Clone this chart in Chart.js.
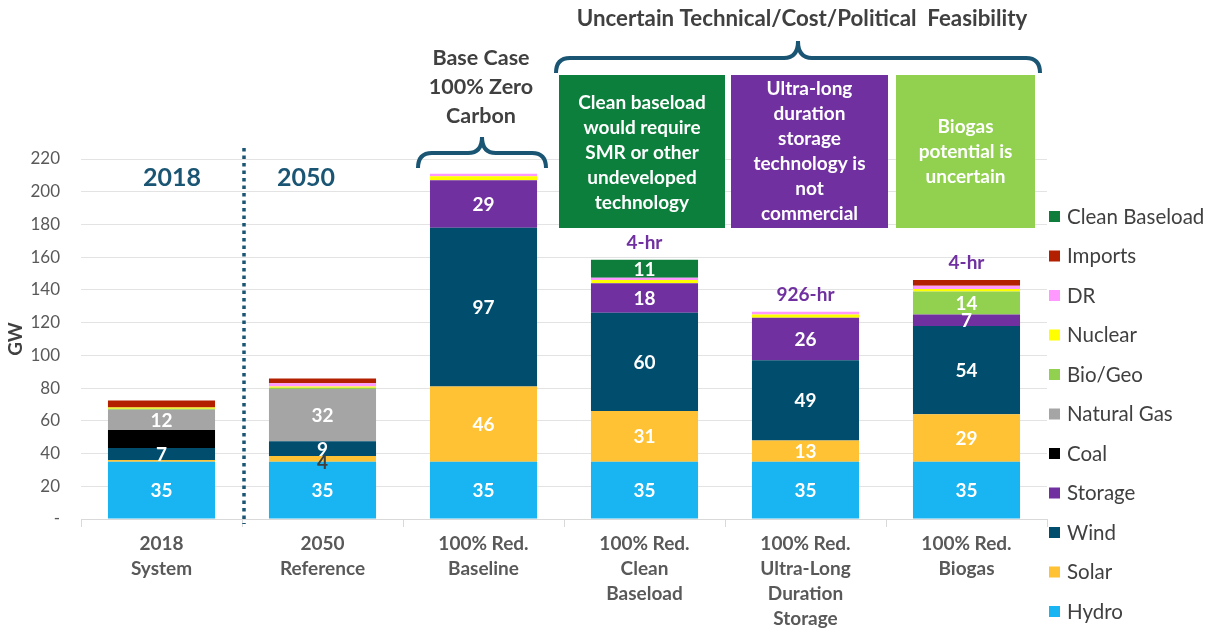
<!DOCTYPE html>
<html>
<head>
<meta charset="utf-8">
<script src="https://cdn.jsdelivr.net/npm/chart.js@4/dist/chart.umd.min.js"></script>
<style>
  html, body { margin: 0; padding: 0; background: #fff; }
  #wrap { width: 1211px; height: 628px; position: relative; }
</style>
</head>
<body>
<div id="wrap"><canvas id="chart"></canvas></div>
<script>
// scenarios (x axis)
const categories = [
  ['2018', 'System'],
  ['2050', 'Reference'],
  ['100% Red.', 'Baseline'],
  ['100% Red.', 'Clean', 'Baseload'],
  ['100% Red.', 'Ultra-Long', 'Duration', 'Storage'],
  ['100% Red.', 'Biogas']
];

// capacity in GW, stacked from the bottom up
const hydro = [35, 35, 35, 35, 35, 35];
const solar = [1, 3.5, 46, 31, 13, 29];
const wind = [7.4, 9, 97, 60, 49, 54];
const storage = [0, 0, 29, 18, 26, 7];
const coal = [11, 0, 0, 0, 0, 0];
const naturalGas = [12.4, 32, 0, 0, 0, 0];
const bioGeo = [0.6, 0.7, 0, 0, 0, 14];
const nuclear = [0.8, 0.7, 2.5, 2, 2, 1.5];
const dr = [0, 2, 1.5, 1.5, 1.6, 2];
const imports = [4.2, 3, 0, 0, 0, 3.5];
const cleanBaseload = [0, 0, 0, 11, 0, 0];

// storage duration notes above bars
const durationNotes = [null, null, null, '4-hr', '926-hr', '4-hr'];

const yTicks = [0, 20, 40, 60, 80, 100, 120, 140, 160, 180, 200, 220];

const series = [
  { label: 'Hydro', data: hydro, color: '#19b4f2', showVal: true },
  { label: 'Solar', data: solar, color: '#fec234', showVal: true },
  { label: 'Wind', data: wind, color: '#014d6e', showVal: true },
  { label: 'Storage', data: storage, color: '#7030a0', showVal: true },
  { label: 'Coal', data: coal, color: '#000000', showVal: false },
  { label: 'Natural Gas', data: naturalGas, color: '#a5a5a5', showVal: true },
  { label: 'Bio/Geo', data: bioGeo, color: '#92d050', showVal: true },
  { label: 'Nuclear', data: nuclear, color: '#ffff00', showVal: false },
  { label: 'DR', data: dr, color: '#ff99ff', showVal: false },
  { label: 'Imports', data: imports, color: '#b22000', showVal: false },
  { label: 'Clean Baseload', data: cleanBaseload, color: '#0e7c3a', showVal: true }
];

const FONT = 'Lato, "Open Sans", sans-serif';
const TEAL = '#1a5674';

function drawBrace(ctx, x1, x2, yTop, yMid, yEnd) {
  const cx = (x1 + x2) / 2;
  const r = 14;
  ctx.beginPath();
  ctx.moveTo(x1, yEnd);
  ctx.quadraticCurveTo(x1, yMid, x1 + r, yMid);
  ctx.lineTo(cx - r, yMid);
  ctx.quadraticCurveTo(cx, yMid, cx, yTop);
  ctx.quadraticCurveTo(cx, yMid, cx + r, yMid);
  ctx.lineTo(x2 - r, yMid);
  ctx.quadraticCurveTo(x2, yMid, x2, yEnd);
  ctx.stroke();
}

function textLines(ctx, lines, x, y0, step) {
  lines.forEach((t, i) => ctx.fillText(t, x, y0 + i * step));
}

const annotations = {
  id: 'annotations',
  afterDatasetsDraw(chart) {
    const ctx = chart.ctx;
    const xs = chart.scales.x;
    const ys = chart.scales.y;
    ctx.save();

    // value labels inside segments
    ctx.textAlign = 'center';
    ctx.textBaseline = 'middle';
    ctx.font = 'bold 19px ' + FONT;
    chart.data.datasets.forEach((ds, di) => {
      if (!series[di].showVal) return;
      const meta = chart.getDatasetMeta(di);
      meta.data.forEach((bar, i) => {
        const v = ds.data[i];
        if (v < 3) return;
        const mid = (bar.y + bar.base) / 2;
        ctx.fillStyle = v < 5 ? '#404040' : '#ffffff';
        ctx.fillText(Math.round(v), bar.x, v < 5 ? mid + 4 : mid + 1);
      });
    });

    // duration notes above stacks
    ctx.fillStyle = '#7030a0';
    ctx.font = 'bold 19px ' + FONT;
    durationNotes.forEach((n, i) => {
      if (!n) return;
      let total = 0;
      series.forEach(s => total += s.data[i]);
      ctx.fillText(n, xs.getPixelForValue(i), ys.getPixelForValue(total) - 17);
    });

    // dotted divider between 2018 and 2050
    const xDiv = (xs.getPixelForValue(0) + xs.getPixelForValue(1)) / 2 + 2;
    ctx.strokeStyle = TEAL;
    ctx.lineWidth = 3.5;
    ctx.setLineDash([3.5, 4]);
    ctx.beginPath();
    ctx.moveTo(xDiv, 148);
    ctx.lineTo(xDiv, 524);
    ctx.stroke();
    ctx.setLineDash([]);

    ctx.fillStyle = TEAL;
    ctx.font = 'bold 25px ' + FONT;
    ctx.fillText('2018', 172, 178);
    ctx.fillText('2050', 306, 178);

    // base case heading and brace
    ctx.fillStyle = '#404040';
    ctx.font = 'bold 21.5px ' + FONT;
    textLines(ctx, ['Base Case', '100% Zero', 'Carbon'], 481, 58, 29);
    ctx.strokeStyle = TEAL;
    ctx.lineWidth = 4;
    drawBrace(ctx, 418, 546, 137, 153, 168);

    // uncertain feasibility heading and brace
    ctx.fillStyle = '#404040';
    ctx.font = 'bold 22.3px ' + FONT;
    ctx.fillText('Uncertain Technical/Cost/Political  Feasibility', 802, 19);
    drawBrace(ctx, 556, 1040, 41, 58, 73);

    // coloured note boxes
    const boxes = [
      { x: 559, w: 166, color: '#0b7f3b', lines: ['Clean baseload', 'would require', 'SMR or other', 'undeveloped', 'technology'], y0: 103 },
      { x: 731, w: 157, color: '#7030a0', lines: ['Ultra-long', 'duration', 'storage', 'technology is', 'not', 'commercial'], y0: 89 },
      { x: 896, w: 139, color: '#92d050', lines: ['Biogas', 'potential is', 'uncertain'], y0: 127 }
    ];
    ctx.font = 'bold 19px ' + FONT;
    boxes.forEach(b => {
      ctx.fillStyle = b.color;
      ctx.fillRect(b.x, 75, b.w, 153);
      ctx.fillStyle = '#ffffff';
      textLines(ctx, b.lines, b.x + b.w / 2, b.y0, 25);
    });

    // legend, top item is last in the stack
    ctx.textAlign = 'left';
    ctx.font = '20.5px ' + FONT;
    series.slice().reverse().forEach((s, i) => {
      const y = 216 + i * 39.5;
      ctx.fillStyle = s.color;
      ctx.fillRect(1049, y - 5, 11, 11);
      ctx.fillStyle = '#404040';
      ctx.fillText(s.label, 1067, y + 1);
    });

    ctx.restore();
  }
};

new Chart(document.getElementById('chart'), {
  type: 'bar',
  data: {
    labels: categories,
    datasets: series.map(s => ({
      label: s.label,
      data: s.data,
      backgroundColor: s.color,
      borderWidth: 0,
      barPercentage: 0.665,
      categoryPercentage: 1
    }))
  },
  options: {
    responsive: true,
    maintainAspectRatio: false,
    animation: false,
    layout: { padding: { top: 159, right: 164, bottom: 0, left: 0 } },
    plugins: {
      legend: { display: false },
      tooltip: { enabled: false }
    },
    scales: {
      x: {
        stacked: true,
        afterFit(scale) { scale.height = 109; },
        grid: { drawOnChartArea: false, color: '#d9d9d9', tickLength: 8, offset: true },
        border: { color: '#d9d9d9' },
        ticks: {
          color: '#595959',
          font: { family: FONT, size: 19, weight: 'bold', lineHeight: 1.32 },
          padding: 4,
          maxRotation: 0,
          autoSkip: false
        }
      },
      y: {
        stacked: true,
        min: 0,
        max: 220,
        afterFit(scale) { scale.width = 81; },
        afterBuildTicks(scale) { scale.ticks = yTicks.map(v => ({ value: v })); },
        grid: { color: '#e3e3e3', drawTicks: false },
        border: { display: false },
        title: {
          display: true,
          text: 'GW',
          color: '#404040',
          font: { family: FONT, size: 19, weight: 'bold' },
          padding: { top: 4, bottom: 0 }
        },
        ticks: {
          color: '#595959',
          font: { family: FONT, size: 17 },
          padding: 21,
          callback: v => v === 0 ? '-' : v
        }
      }
    }
  },
  plugins: [annotations]
});
</script>
</body>
</html>
